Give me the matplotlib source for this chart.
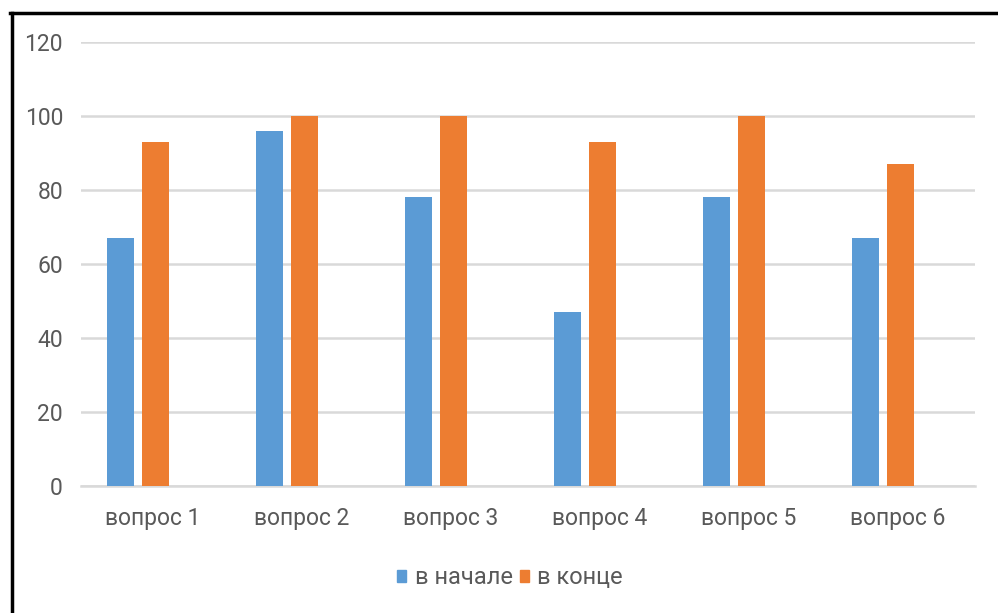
import numpy as np
import matplotlib
matplotlib.use("Agg")
import matplotlib.pyplot as plt
from matplotlib.patches import Patch
from matplotlib.lines import Line2D

categories = ["вопрос 1", "вопрос 2", "вопрос 3", "вопрос 4", "вопрос 5", "вопрос 6"]
start_vals = [67, 96, 78, 47, 78, 67]   # в начале
end_vals = [93, 100, 100, 93, 100, 87]  # в конце
series_names = ["в начале", "в конце"]

BLUE = "#5B9BD5"
ORANGE = "#ED7D31"
GRID = "#D9D9D9"
TXT = "#595959"

plt.rcParams["font.family"] = ["Roboto", "DejaVu Sans"]

fig = plt.figure(figsize=(9.98, 6.13), dpi=100)
ax = fig.add_axes([81 / 998, 1 - 486 / 613, (975 - 81) / 998, (486 - 42) / 613])

x = np.arange(len(categories))
w = 0.178
step = 0.235
# Excel layout: a third (empty) series slot sits to the right of each group
ax.bar(x - step, start_vals, w, color=BLUE, zorder=3)
ax.bar(x, end_vals, w, color=ORANGE, zorder=3)

ax.set_xlim(-0.5, len(categories) - 0.5)
ax.set_ylim(0, 120)
ax.set_yticks(range(0, 121, 20))
ax.set_xticks(x - 0.02, labels=categories)
ax.yaxis.grid(True, color=GRID, lw=1.8, zorder=0)
ax.set_axisbelow(True)
for s in ["top", "right", "left"]:
    ax.spines[s].set_visible(False)
ax.spines["bottom"].set_color(GRID)
ax.spines["bottom"].set_linewidth(1.8)
ax.tick_params(axis="both", length=0, labelsize=16.5, colors=TXT)
ax.tick_params(axis="y", pad=13)
ax.tick_params(axis="x", pad=15)

handles = [Patch(color=BLUE), Patch(color=ORANGE)]
fig.legend(handles, series_names, loc="center", bbox_to_anchor=(0.511, 1 - 578 / 613),
           ncol=2, frameon=False, fontsize=17, labelcolor=TXT,
           handlelength=0.4, handleheight=0.4, handletextpad=0.35, columnspacing=0.3)

# black frame on the left and top edges (screenshot crop)
fig.add_artist(Line2D([11.5 / 998, 11.5 / 998], [0, 1 - 13 / 613], color="black", lw=2.5,
                      transform=fig.transFigure))
fig.add_artist(Line2D([10 / 998, 1], [1 - 13 / 613, 1 - 13 / 613], color="black", lw=2.5,
                      transform=fig.transFigure))

fig.savefig("out.png", dpi=100)
